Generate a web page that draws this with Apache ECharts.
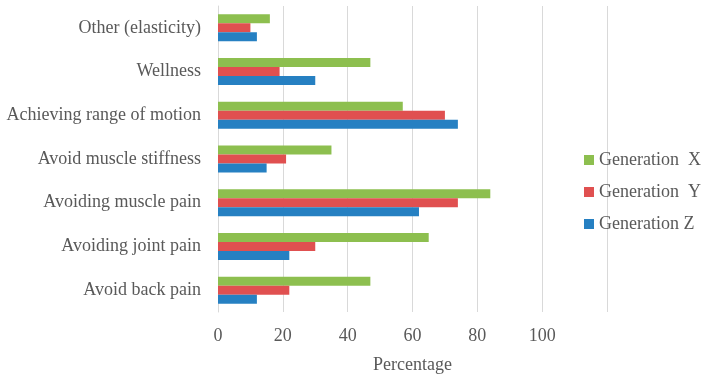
<!DOCTYPE html>
<html>
<head>
<meta charset="utf-8">
<script src="https://cdn.jsdelivr.net/npm/echarts@6/dist/echarts.min.js"></script>
<style>
  html, body { margin: 0; padding: 0; background: #fff; }
  #main { width: 708px; height: 380px; }
</style>
</head>
<body>
<div id="main"></div>
<script>
// categories listed bottom to top
var reasons = ['Avoid back pain', 'Avoiding joint pain', 'Avoiding muscle pain',
  'Avoid muscle stiffness', 'Achieving range of motion', 'Wellness', 'Other (elasticity)'];
var genZ = [12, 22, 62, 15, 74, 30, 12];
var genY = [22, 30, 74, 21, 70, 19, 10];
var genX = [47, 65, 84, 35, 57, 47, 16];
var xTicks = [0, 20, 40, 60, 80, 100];

var font = 'Liberation Serif';
var textColor = '#595959';

var chart = echarts.init(document.getElementById('main'));

var option = {
  animation: false,
  textStyle: { fontFamily: font },
  grid: { left: 218, right: 101, top: 6, bottom: 68 },
  legend: {
    orient: 'vertical',
    left: 579,
    top: 146,
    itemWidth: 10,
    itemHeight: 10,
    itemGap: 14,
    icon: 'rect',
    textStyle: { fontFamily: font, fontSize: 18, color: textColor },
    data: ['Generation  X', 'Generation  Y', 'Generation Z']
  },
  xAxis: {
    type: 'value',
    min: 0,
    max: 120,
    interval: 20,
    name: 'Percentage',
    nameLocation: 'middle',
    nameGap: 44,
    nameTextStyle: { fontFamily: font, fontSize: 18, color: textColor },
    axisLine: { show: false },
    axisTick: { show: false },
    axisLabel: {
      margin: 15,
      fontFamily: font,
      fontSize: 18,
      color: textColor,
      formatter: function (v) { return xTicks.indexOf(v) >= 0 ? String(v) : ''; }
    },
    splitLine: { lineStyle: { color: '#d9d9d9', width: 1 } }
  },
  yAxis: {
    type: 'category',
    data: reasons,
    axisLine: { lineStyle: { color: '#d9d9d9' } },
    axisTick: { show: false },
    axisLabel: { margin: 17, fontFamily: font, fontSize: 18, color: textColor }
  },
  series: [
    { name: 'Generation  X', type: 'bar', data: genX, barWidth: 9, barGap: '0%',
      itemStyle: { color: '#8dbf4f' } },
    { name: 'Generation  Y', type: 'bar', data: genY, barWidth: 9, barGap: '0%',
      itemStyle: { color: '#e05050' } },
    { name: 'Generation Z', type: 'bar', data: genZ, barWidth: 9, barGap: '0%',
      itemStyle: { color: '#2680c2' } }
  ]
};

chart.setOption(option);
</script>
</body>
</html>
